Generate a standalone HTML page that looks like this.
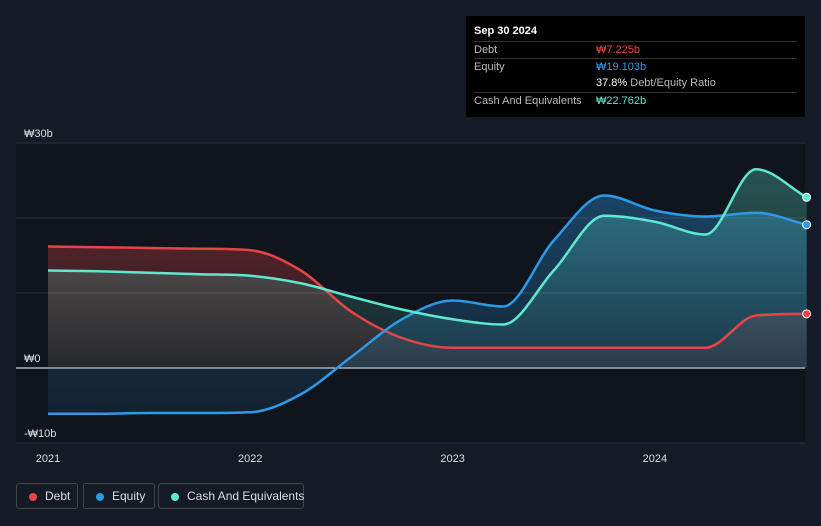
<!DOCTYPE html>
<html><head><meta charset="utf-8">
<style>
body{margin:0;width:821px;height:526px;background:#151b26;font-family:"Liberation Sans","Noto Sans CJK KR",sans-serif;overflow:hidden;position:relative;color:#fff}
.tt{position:absolute;left:466px;top:16px;width:339px;height:101px;background:#000;font-size:11px}
.tt .h{position:absolute;left:8px;top:9px;font-weight:bold;font-size:11px}
.row{position:absolute;left:8px;width:323px;border-top:1px solid #333;height:17px;line-height:17px;color:#bbb}
.row span{position:absolute;left:122px}
.leg{position:absolute;top:483px;height:26px;border:1px solid #444;border-radius:3px;font-size:12px;line-height:24px;color:#ddd;box-sizing:border-box;padding-left:28px;white-space:nowrap}
.leg i{position:absolute;left:12px;top:9px;width:8px;height:8px;border-radius:50%}
</style></head><body>
<svg id="chart" width="821" height="526" style="position:absolute;left:0;top:0"></svg>
<div class="tt">
<div class="h">Sep 30 2024</div>
<div class="row" style="top:25px">Debt<span style="color:#e64545">₩7.225b</span></div>
<div class="row" style="top:42px">Equity<span style="color:#2d9ae8">₩19.103b</span></div>
<div class="row" style="top:59px;border-top:none"><span style="color:#fff">37.8% <b style="font-weight:normal;color:#bbb">Debt/Equity Ratio</b></span></div>
<div class="row" style="top:76px">Cash And Equivalents<span style="color:#5ee8d0">₩22.762b</span></div>
</div>
<div class="leg" style="left:16px;width:62px"><i style="background:#e64545"></i>Debt</div>
<div class="leg" style="left:83px;width:72px"><i style="background:#2d9ae8"></i>Equity</div>
<div class="leg" style="left:158px;width:146px"><i style="background:#5ee8d0"></i>Cash And Equivalents</div>
<script>
const times=[2021,2021.25,2021.5,2021.75,2022,2022.25,2022.5,2022.75,2023,2023.25,2023.5,2023.75,2024,2024.25,2024.5,2024.75];
const debt=[16.2,16.1,16.0,15.9,15.7,13.0,7.5,4.0,2.7,2.7,2.7,2.7,2.7,2.7,7.0,7.225];
const equity=[-6.1,-6.1,-6.0,-6.0,-5.9,-3.5,1.5,6.5,9.0,8.2,17.0,23.0,21.0,20.2,20.7,19.103];
const cash=[13.0,12.9,12.7,12.5,12.3,11.3,9.5,7.8,6.5,5.8,13.0,20.3,19.5,17.8,26.5,22.762];
const yTicks=[30,20,10,0,-10];
const yLabels={30:"₩30b",0:"₩0","-10":"-₩10b"};
const xTicks=[2021,2022,2023,2024];
const X=t=>48+(t-2021)*202.3, Y=v=>368-v*7.5;
const svg=document.getElementById('chart');const NS='http://www.w3.org/2000/svg';
function el(tag,attrs,parent){const e=document.createElementNS(NS,tag);for(const k in attrs)e.setAttribute(k,attrs[k]);(parent||svg).appendChild(e);return e;}
svg.innerHTML='<defs><linearGradient id="gd" x1="0" y1="0" x2="0" y2="1"><stop offset="0" stop-color="#e64545" stop-opacity="0.3"/><stop offset="1" stop-color="#e64545" stop-opacity="0.08"/></linearGradient><linearGradient id="ge" x1="0" y1="0" x2="0" y2="1"><stop offset="0" stop-color="#2d9ae8" stop-opacity="0.35"/><stop offset="1" stop-color="#2d9ae8" stop-opacity="0.1"/></linearGradient><linearGradient id="gc" x1="0" y1="0" x2="0" y2="1"><stop offset="0" stop-color="#5ee8d0" stop-opacity="0.3"/><stop offset="1" stop-color="#5ee8d0" stop-opacity="0.08"/></linearGradient></defs>';
el('rect',{x:16,y:143,width:789,height:300,fill:'#10141c'});
yTicks.forEach(v=>{const l=el('line',{x1:16,x2:805,y1:Y(v),y2:Y(v),stroke:v===0?'#fff':'#2a313c','stroke-width':1});
if(yLabels[v]!==undefined){const t=el('text',{x:24,y:Y(v)-6,fill:'#ddd','font-size':11});t.textContent=yLabels[v];}});
xTicks.forEach(v=>{const t=el('text',{x:X(v),y:462,fill:'#ddd','font-size':11,'text-anchor':'middle'});t.textContent=v;});
function path(vals){const p=times.map((t,i)=>[X(t),Y(vals[i])]);const n=p.length;const m=[];const d=[];
for(let i=0;i<n-1;i++)d.push((p[i+1][1]-p[i][1])/(p[i+1][0]-p[i][0]));
for(let i=0;i<n;i++){if(i===0)m.push(d[0]);else if(i===n-1)m.push(d[n-2]);else m.push(d[i-1]*d[i]<=0?0:(d[i-1]+d[i])/2);}
for(let i=0;i<n-1;i++){if(d[i]===0){m[i]=0;m[i+1]=0;continue;}const a=m[i]/d[i],b=m[i+1]/d[i];const s=a*a+b*b;if(s>9){const tt=3/Math.sqrt(s);m[i]=tt*a*d[i];m[i+1]=tt*b*d[i];}}
let s='M'+p[0][0]+','+p[0][1];for(let i=0;i<n-1;i++){const h=(p[i+1][0]-p[i][0])/3;s+=`C${p[i][0]+h},${p[i][1]+m[i]*h} ${p[i+1][0]-h},${p[i+1][1]-m[i+1]*h} ${p[i+1][0]},${p[i+1][1]}`;}return s;}
const series=[['debt',debt,'#e64545','gd'],['equity',equity,'#2d9ae8','ge'],['cash',cash,'#5ee8d0','gc']];
series.forEach(([n,v,c,g])=>{const d=path(v);const a=el('path',{d:d+`L${X(times[times.length-1])},${Y(0)}L${X(times[0])},${Y(0)}Z`,fill:`url(#${g})`});});
series.forEach(([n,v,c])=>{const l=el('path',{d:path(v),fill:'none',stroke:c,'stroke-width':2.5});
const dot=el('circle',{cx:X(times[times.length-1]),cy:Y(v[v.length-1]),r:4,fill:c,stroke:'#fff','stroke-width':1});});
</script>
</body></html>
